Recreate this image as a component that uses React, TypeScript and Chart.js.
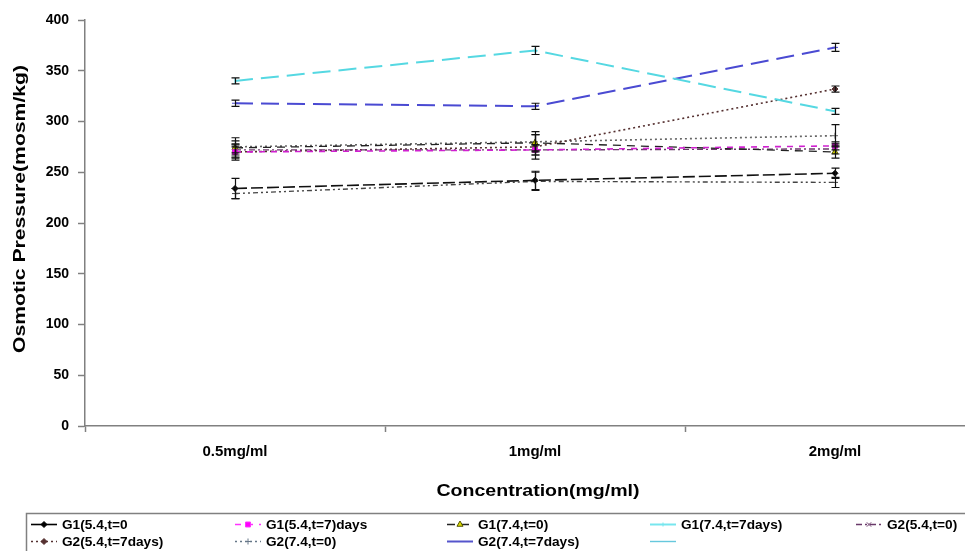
import React, { useEffect, useRef } from "react";
import { Chart, registerables } from "chart.js";
import { drawPoint } from "chart.js/helpers";

Chart.register(...registerables);

const categories = ["0.5mg/ml", "1mg/ml", "2mg/ml"];
const yMin = 0;
const yMax = 400;
const yStep = 50;

const seriesLabels = [
  "G1(5.4,t=0",
  "G1(5.4,t=7)days",
  "G1(7.4,t=0)",
  "G1(7.4,t=7days)",
  "G2(5.4,t=0)",
  "G2(5.4,t=7days)",
  "G2(7.4,t=0)",
  "G2(7.4,t=7days)",
  "",
];

const g1_54_t0 = [234, 242, 249];
const g1_54_t7 = [270, 272, 276];
const g1_74_t0 = [274, 279, 270];
const g1_74_t7 = [340, 370, 310];
const g2_54_t0 = [272, 272, 273];
const g2_54_t7 = [270, 275, 332];
const g2_74_t0 = [275, 280, 286];
const g2_74_t7 = [318, 315, 373];
const extra = [229, 241, 240];

const g1_54_t0_err = [10, 9, 5];
const g1_54_t7_err = [5, 5, 4];
const g1_74_t0_err = [10, 8, 6];
const g1_74_t7_err = [3, 4, 3];
const g2_54_t0_err = [5, 5, 5];
const g2_54_t7_err = [8, 12, 3];
const g2_74_t0_err = [6, 10, 11];
const g2_74_t7_err = [3, 3, 4];
const extra_err = [5, 9, 5];

const FONT = "'Liberation Sans', Arial, sans-serif";

type Style = {
  color: string;
  fill: string;
  dash: number[];
  legendDash: number[];
  legendColor: string;
  point: string;
  radius: number;
  rotation: number;
  width: number;
};

const styles: Style[] = [
  { color: "#111111", fill: "#000000", dash: [12, 4], legendDash: [], legendColor: "#000000", point: "rectRot", radius: 3, rotation: 0, width: 1.6 },
  { color: "#d020d0", fill: "#ff00ff", dash: [6, 6], legendDash: [6, 6], legendColor: "#ff33ff", point: "rect", radius: 3.5, rotation: 0, width: 1.6 },
  { color: "#222222", fill: "#dddd00", dash: [8, 6], legendDash: [8, 6], legendColor: "#222222", point: "triangle", radius: 3.5, rotation: 0, width: 1.3 },
  { color: "#55d8e2", fill: "#55d8e2", dash: [18, 8], legendDash: [], legendColor: "#77e6ee", point: "line", radius: 3, rotation: 90, width: 2 },
  { color: "#6a3a6a", fill: "#6a3a6a", dash: [6, 3, 2, 3], legendDash: [6, 3, 2, 3], legendColor: "#6a3a6a", point: "crossRot", radius: 3, rotation: 0, width: 1.4 },
  { color: "#553030", fill: "#553030", dash: [2, 3], legendDash: [2, 3], legendColor: "#553030", point: "rectRot", radius: 3, rotation: 0, width: 1.6 },
  { color: "#666666", fill: "#666666", dash: [2, 3], legendDash: [2, 3], legendColor: "#667788", point: "cross", radius: 3, rotation: 0, width: 1.6 },
  { color: "#4a4ad2", fill: "#4a4ad2", dash: [18, 8], legendDash: [], legendColor: "#5555cc", point: "line", radius: 3, rotation: 0, width: 2 },
  { color: "#444444", fill: "#444444", dash: [5, 3, 2, 3, 2, 3], legendDash: [], legendColor: "#66c8dd", point: "line", radius: 3, rotation: 0, width: 1.4 },
];

const seriesValues = [g1_54_t0, g1_54_t7, g1_74_t0, g1_74_t7, g2_54_t0, g2_54_t7, g2_74_t0, g2_74_t7, extra];
const seriesErrors = [g1_54_t0_err, g1_54_t7_err, g1_74_t0_err, g1_74_t7_err, g2_54_t0_err, g2_54_t7_err, g2_74_t0_err, g2_74_t7_err, extra_err];

const errorBarPlugin = {
  id: "errorBars",
  afterDatasetsDraw(chart: any) {
    const ctx = chart.ctx;
    const y = chart.scales.y;
    ctx.save();
    ctx.strokeStyle = "#111111";
    ctx.lineWidth = 1.2;
    ctx.setLineDash([]);
    chart.data.datasets.forEach((ds: any, i: number) => {
      const meta = chart.getDatasetMeta(i);
      const errs = seriesErrors[i];
      meta.data.forEach((pt: any, j: number) => {
        const v = ds.data[j];
        const e = errs[j];
        const x = Math.round(pt.x) + 0.5;
        const yt = y.getPixelForValue(v + e);
        const yb = y.getPixelForValue(v - e);
        ctx.beginPath();
        ctx.moveTo(x, yt);
        ctx.lineTo(x, yb);
        ctx.moveTo(x - 4, yt);
        ctx.lineTo(x + 4, yt);
        ctx.moveTo(x - 4, yb);
        ctx.lineTo(x + 4, yb);
        ctx.stroke();
      });
    });
    ctx.restore();
  },
};

const titlesPlugin = {
  id: "titles",
  afterDraw(chart: any) {
    const ctx = chart.ctx;
    ctx.save();
    ctx.fillStyle = "#000000";
    ctx.textAlign = "center";
    ctx.textBaseline = "middle";
    // y title
    ctx.font = `bold 17px ${FONT}`;
    const yt = "Osmotic Pressure(mosm/kg)";
    const yw = ctx.measureText(yt).width;
    ctx.save();
    ctx.translate(20, 209);
    ctx.rotate(-Math.PI / 2);
    ctx.scale(288 / yw, 1);
    ctx.fillText(yt, 0, 0);
    ctx.restore();
    // x title
    ctx.font = `bold 16px ${FONT}`;
    const xt = "Concentration(mg/ml)";
    const xw = ctx.measureText(xt).width;
    ctx.save();
    ctx.translate(538, 492);
    ctx.scale(203 / xw, 1);
    ctx.fillText(xt, 0, 0);
    ctx.restore();

    // legend
    ctx.strokeStyle = "#808080";
    ctx.lineWidth = 1.5;
    ctx.setLineDash([]);
    ctx.strokeRect(26.5, 513.5, 1100, 80);
    const textX = [62, 266, 478, 681, 887];
    const rowY = [524, 541];
    ctx.font = `bold 13px ${FONT}`;
    ctx.textAlign = "left";
    styles.forEach((s, i) => {
      const col = i % 5;
      const row = Math.floor(i / 5);
      const tx = textX[col];
      const ty = rowY[row];
      const x0 = tx - 31;
      const x1 = tx - 5;
      ctx.save();
      ctx.strokeStyle = s.legendColor;
      ctx.lineWidth = s.width;
      ctx.setLineDash(s.legendDash);
      ctx.beginPath();
      ctx.moveTo(x0, ty + 0.5);
      ctx.lineTo(x1, ty + 0.5);
      ctx.stroke();
      ctx.setLineDash([]);
      ctx.fillStyle = s.fill;
      ctx.strokeStyle = s.point === "triangle" ? "#555500" : s.legendColor;
      ctx.lineWidth = 1;
      drawPoint(ctx, { pointStyle: s.point, radius: s.point === "line" ? 2 : s.radius, rotation: s.rotation, borderWidth: 1 } as any, (x0 + x1) / 2, ty + 0.5);
      ctx.restore();
      if (seriesLabels[i]) {
        ctx.save();
        ctx.fillStyle = "#000000";
        ctx.textBaseline = "middle";
        ctx.translate(tx, ty + 1);
        ctx.scale(1.05, 1);
        ctx.fillText(seriesLabels[i], 0, 0);
        ctx.restore();
      }
    });
    ctx.restore();
  },
};

export default function App() {
  const ref = useRef<HTMLCanvasElement | null>(null);

  useEffect(() => {
    if (!ref.current) return;
    const datasets = seriesValues.map((vals, i) => {
      const s = styles[i];
      return {
        label: seriesLabels[i],
        data: vals,
        borderColor: s.color,
        backgroundColor: s.fill,
        borderWidth: s.width,
        borderDash: s.dash,
        pointStyle: s.point,
        pointRadius: s.radius,
        pointRotation: s.rotation,
        pointBackgroundColor: s.fill,
        pointBorderColor: s.point === "triangle" ? "#555500" : s.color,
        pointBorderWidth: 1,
        fill: false,
        tension: 0,
      };
    });
    const chart = new Chart(ref.current, {
      type: "line",
      data: { labels: categories, datasets },
      options: {
        animation: false,
        responsive: true,
        maintainAspectRatio: false,
        layout: { padding: { left: 0, right: 15, top: 20, bottom: 0 } },
        plugins: {
          legend: { display: false },
          tooltip: { enabled: false },
          title: { display: false },
        },
        scales: {
          x: {
            type: "category",
            offset: true,
            grid: {
              offset: true,
              drawOnChartArea: false,
              drawTicks: true,
              tickLength: 6,
              tickColor: "#808080",
              tickWidth: 1.5,
            },
            border: { color: "#808080", width: 1.5 },
            ticks: {
              color: "#000000",
              font: { family: FONT, size: 15, weight: "bold" },
              padding: 11,
              maxRotation: 0,
            },
            afterFit(scale: any) {
              scale.height = 125;
            },
          },
          y: {
            min: yMin,
            max: yMax,
            grid: {
              drawOnChartArea: false,
              drawTicks: true,
              tickLength: 7,
              tickColor: "#808080",
              tickWidth: 1.5,
            },
            border: { color: "#808080", width: 1.5 },
            ticks: {
              stepSize: yStep,
              color: "#000000",
              font: { family: FONT, size: 14, weight: "bold" },
              padding: 9,
            },
            afterFit(scale: any) {
              scale.width = 85;
            },
          },
        },
      },
      plugins: [errorBarPlugin, titlesPlugin],
    });
    return () => chart.destroy();
  }, []);

  return (
    <div style={{ position: "absolute", left: 0, top: 0, width: 965, height: 551, overflow: "hidden", background: "#ffffff" }}>
      <div style={{ position: "relative", width: 1000, height: 551 }}>
        <canvas ref={ref} />
      </div>
    </div>
  );
}
